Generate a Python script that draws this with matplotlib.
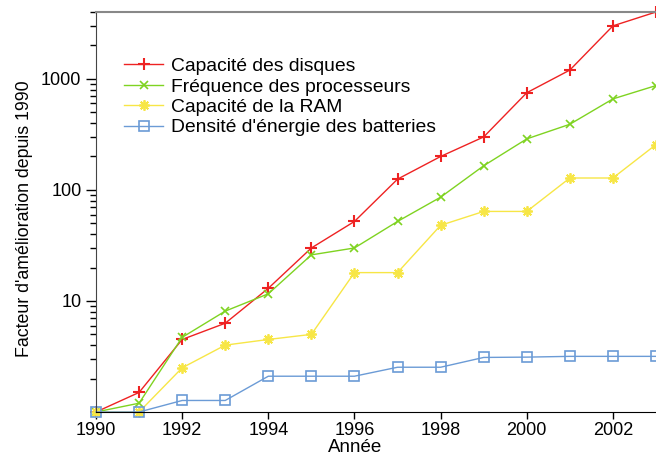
import matplotlib

matplotlib.use("Agg")
import matplotlib.pyplot as plt
from matplotlib.ticker import LogLocator, NullFormatter, FixedLocator

plt.rcParams["font.family"] = ["Liberation Sans", "DejaVu Sans"]

# données (facteur d'amélioration depuis 1990)
years = list(range(1990, 2004))
disques = [1, 1.5, 4.5, 6.3, 13, 30, 52, 125, 200, 300, 750, 1200, 3000, 4000]
processeurs = [1, 1.2, 4.7, 8.1, 11.6, 26, 30, 52, 86, 165, 288, 390, 660, 870]
ram = [1, 1.0, 2.5, 4.0, 4.5, 5.0, 18, 18, 48, 64, 64, 128, 128, 256]
batteries = [1, 1, 1.27, 1.27, 2.1, 2.1, 2.1, 2.53, 2.53, 3.1, 3.12, 3.17, 3.17, 3.17]

labels = [
    "Capacité des disques",
    "Fréquence des processeurs",
    "Capacité de la RAM",
    "Densité d'énergie des batteries",
]

fig = plt.figure(figsize=(6.56, 4.57), dpi=100)
ax = fig.add_axes([96 / 656, 45 / 457, 560 / 656, 400 / 457])

ax.plot(years, disques, color="#ee2222", lw=1, marker="+", ms=8, mew=1.5,
        label=labels[0], clip_on=False)
ax.plot(years, processeurs, color="#7fd321", lw=1, marker="x", ms=5.5, mew=1.2,
        label=labels[1], clip_on=False)
ax.plot(years, ram, color="#f7e646", lw=1, marker=(8, 2, 0), ms=7.5, mew=1.3,
        label=labels[2], clip_on=False)
ax.plot(years, batteries, color="#6b9bd6", lw=1, marker="s", ms=6.5, mew=1.2,
        mfc="none", label=labels[3], clip_on=False)

ax.set_yscale("log")
ax.set_xlim(1990, 2003)
ax.set_ylim(1, 4000)

ax.xaxis.set_major_locator(FixedLocator(range(1990, 2004, 2)))
ax.yaxis.set_major_locator(FixedLocator([10, 100, 1000]))
ax.yaxis.set_major_formatter(matplotlib.ticker.FuncFormatter(lambda v, p: f"{int(v)}"))
ax.yaxis.set_minor_locator(LogLocator(base=10, subs=range(2, 10)))
ax.yaxis.set_minor_formatter(NullFormatter())

ax.tick_params(axis="both", direction="out", labelsize=13)
ax.tick_params(axis="y", which="major", length=7, width=1)
ax.tick_params(axis="y", which="minor", length=4, width=1)
ax.tick_params(axis="x", which="major", length=5, width=1, pad=2)

ax.spines["right"].set_visible(False)
ax.spines["top"].set_color("#888888")
ax.spines["top"].set_linewidth(1.5)
ax.spines["left"].set_color("#444444")

ax.set_xlabel("Année", fontsize=13.5)
ax.xaxis.set_label_coords((355 - 96) / 560, -0.068)
ax.set_ylabel("Facteur d'amélioration depuis 1990", fontsize=12.8)
ax.yaxis.set_label_coords(-0.112, (412 - 219) / 400)

ax.legend(loc="upper left", bbox_to_anchor=(0.036, 0.905), frameon=False,
          fontsize=13.9, handlelength=2.05, handletextpad=0.4, labelspacing=0.15,
          borderaxespad=0)

fig.savefig("out.png", dpi=100)
